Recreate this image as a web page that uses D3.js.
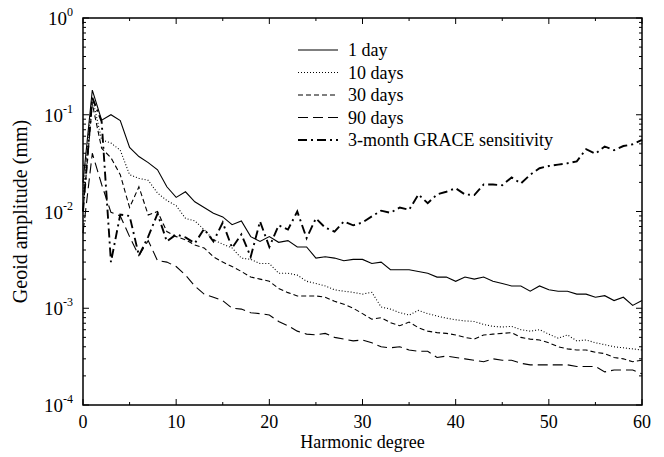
<!doctype html>
<html>
<head>
<meta charset="UTF-8">
<title>geoid</title>
<script src="https://d3js.org/d3.v7.min.js"></script>
<style>
  body { margin: 0; background: #fff; }
  text { font-family: "Liberation Serif", "DejaVu Serif", serif; fill: #000; }
</style>
</head>
<body>
<script>
// degrees 0..60
var degrees = d3.range(0, 61);

var oneDay = [0.020, 0.18, 0.088, 0.10, 0.087, 0.046, 0.037, 0.032, 0.027, 0.018,
  0.014, 0.016, 0.0126, 0.011, 0.0096, 0.0088, 0.0073, 0.0080, 0.0055, 0.0049,
  0.0055, 0.0048, 0.0050, 0.0043, 0.0043, 0.0033, 0.0034, 0.0033, 0.0031, 0.0032,
  0.0032, 0.0029, 0.0030, 0.0025, 0.0025, 0.0025, 0.0024, 0.0023, 0.0021, 0.0021,
  0.0019, 0.0021, 0.0020, 0.0021, 0.0019, 0.0018, 0.0017, 0.0017, 0.0015, 0.0017,
  0.00155, 0.0015, 0.0015, 0.0014, 0.0014, 0.0013, 0.00135, 0.0012, 0.0013, 0.00107,
  0.0012];

var tenDays = [0.015, 0.15, 0.055, 0.051, 0.043, 0.024, 0.022, 0.021, 0.0155, 0.013,
  0.0115, 0.0085, 0.0080, 0.0065, 0.0051, 0.0046, 0.0042, 0.0033, 0.0032, 0.0029,
  0.0029, 0.0023, 0.0023, 0.0022, 0.0019, 0.0018, 0.0017, 0.00155, 0.0015, 0.00146,
  0.0014, 0.00146, 0.00103, 0.00098, 0.0009, 0.00085, 0.00095, 0.00088, 0.00083, 0.00079,
  0.00076, 0.00074, 0.00073, 0.00068, 0.00065, 0.00064, 0.00065, 0.0006, 0.00058, 0.0006,
  0.00054, 0.00049, 0.00053, 0.00046, 0.00047, 0.00044, 0.00042, 0.0004, 0.00039, 0.00038,
  0.00037];

var thirtyDays = [0.010, 0.13, 0.045, 0.036, 0.024, 0.011, 0.018, 0.0092, 0.010, 0.0062,
  0.0055, 0.0051, 0.0045, 0.0042, 0.0034, 0.0030, 0.0027, 0.0024, 0.0021, 0.0020,
  0.0019, 0.0016, 0.00145, 0.00134, 0.00134, 0.00134, 0.0013, 0.00118, 0.0011, 0.0010,
  0.00088, 0.00077, 0.0008, 0.00071, 0.00066, 0.00072, 0.00063, 0.00058, 0.00056, 0.00055,
  0.00053, 0.0005, 0.00048, 0.00053, 0.00054, 0.00055, 0.00056, 0.0005, 0.00048, 0.00047,
  0.00044, 0.0004, 0.00038, 0.00037, 0.00037, 0.00035, 0.00034, 0.00031, 0.0003, 0.00028,
  0.00029];

var ninetyDays = [0.006, 0.040, 0.019, 0.0098, 0.0090, 0.0055, 0.0035, 0.0050, 0.0031, 0.0030,
  0.0027, 0.0022, 0.0017, 0.0014, 0.0013, 0.0012, 0.0010, 0.00098, 0.0009, 0.00088,
  0.00085, 0.00073, 0.00066, 0.00058, 0.00054, 0.00053, 0.00055, 0.0005, 0.00048, 0.00046,
  0.00047, 0.00044, 0.0004, 0.00039, 0.0004, 0.00037, 0.00036, 0.00036, 0.00031, 0.00032,
  0.00031, 0.0003, 0.00029, 0.00028, 0.0003, 0.00029, 0.00029, 0.00027, 0.00026, 0.00026,
  0.00026, 0.00026, 0.00026, 0.00025, 0.00025, 0.00025, 0.00022, 0.00023, 0.00023, 0.00023,
  0.00021];

var grace = [0.010, 0.15, 0.085, 0.003, 0.0093, 0.0090, 0.0035, 0.0055, 0.0095, 0.0049,
  0.0058, 0.0054, 0.0047, 0.0066, 0.0049, 0.0077, 0.0042, 0.0058, 0.0034, 0.0079,
  0.0043, 0.0072, 0.0065, 0.010, 0.0053, 0.0085, 0.0068, 0.0062, 0.0079, 0.0072,
  0.0077, 0.0089, 0.0102, 0.0097, 0.0110, 0.0104, 0.0150, 0.0122, 0.0150, 0.0160,
  0.0174, 0.0150, 0.0148, 0.0190, 0.0190, 0.0187, 0.0225, 0.0195, 0.0240, 0.0280,
  0.0295, 0.0305, 0.0315, 0.0330, 0.0440, 0.0395, 0.0470, 0.0430, 0.0475, 0.0495,
  0.0550];

var seriesNames = ["1 day", "10 days", "30 days", "90 days", "3-month GRACE sensitivity"];
var xTicks = [0, 10, 20, 30, 40, 50, 60];
var yExponents = [0, -1, -2, -3, -4];

var W = 664, H = 457;
var pL = 83, pR = 642, pT = 18, pB = 405;

var svg = d3.select("body").append("svg").attr("width", W).attr("height", H);

var x = d3.scaleLinear().domain([0, 60]).range([pL, pR]);
var y = d3.scaleLog().domain([1e-4, 1]).range([pB, pT]);

// line styles per series
var styles = [
  {dash: null, w: 1.1},
  {dash: "1,2", w: 1.1},
  {dash: "5,3", w: 1.1},
  {dash: "10,5", w: 1.1},
  {dash: "9,4,2,4", w: 1.9}
];
var data = [oneDay, tenDays, thirtyDays, ninetyDays, grace];

var line = d3.line()
  .x(function(d, i){ return x(degrees[i]); })
  .y(function(d){ return y(d); });

svg.selectAll("path.series").data(data).enter().append("path")
  .attr("class", "series")
  .attr("d", line)
  .attr("fill", "none")
  .attr("stroke", "#000")
  .attr("stroke-width", function(d, i){ return styles[i].w; })
  .attr("stroke-dasharray", function(d, i){ return styles[i].dash; });

// frame
svg.append("rect")
  .attr("x", pL).attr("y", pT)
  .attr("width", pR - pL).attr("height", pB - pT)
  .attr("fill", "none").attr("stroke", "#000").attr("stroke-width", 1.5);

// x ticks (inward, top and bottom)
var xMinor = d3.range(0, 61, 5);
var g = svg.append("g").attr("stroke", "#000").attr("stroke-width", 1);
xMinor.forEach(function(v){
  var len = (v % 10 === 0) ? 6 : 3;
  g.append("line").attr("x1", x(v)).attr("x2", x(v)).attr("y1", pB).attr("y2", pB - len);
  g.append("line").attr("x1", x(v)).attr("x2", x(v)).attr("y1", pT).attr("y2", pT + len);
});

// y ticks (log, inward, left and right)
var yt = [];
for (var e = -4; e <= 0; e++) {
  for (var m = 1; m <= 9; m++) {
    var v = m * Math.pow(10, e);
    if (v <= 1) yt.push({v: v, major: m === 1});
  }
}
yt.forEach(function(t){
  var len = t.major ? 6 : 3;
  g.append("line").attr("x1", pL).attr("x2", pL + len).attr("y1", y(t.v)).attr("y2", y(t.v));
  g.append("line").attr("x1", pR).attr("x2", pR - len).attr("y1", y(t.v)).attr("y2", y(t.v));
});

// x tick labels
svg.selectAll("text.xt").data(xTicks).enter().append("text")
  .attr("class", "xt")
  .attr("x", function(d){ return x(d); })
  .attr("y", pB + 23)
  .attr("text-anchor", "middle")
  .attr("font-size", 18)
  .text(function(d){ return d; });

// y tick labels 10^n
var yl = svg.selectAll("text.yt").data(yExponents).enter().append("text")
  .attr("class", "yt")
  .attr("x", pL - 10)
  .attr("y", function(d){ return y(Math.pow(10, d)) + 7; })
  .attr("text-anchor", "end")
  .attr("font-size", 19);
yl.append("tspan").text("10");
yl.append("tspan").attr("dy", -9).attr("font-size", 12).text(function(d){ return d; });

// axis titles
svg.append("text")
  .attr("x", (pL + pR) / 2).attr("y", 448)
  .attr("text-anchor", "middle").attr("font-size", 18)
  .text("Harmonic degree");
svg.append("text")
  .attr("transform", "translate(27," + ((pT + pB) / 2) + ") rotate(-90)")
  .attr("text-anchor", "middle").attr("font-size", 20)
  .text("Geoid amplitude (mm)");

// legend
var lg = svg.selectAll("g.leg").data(seriesNames).enter().append("g")
  .attr("class", "leg")
  .attr("transform", function(d, i){ return "translate(298," + (50 + i * 22.5) + ")"; });
lg.append("line")
  .attr("x1", 0).attr("x2", 40).attr("y1", 0).attr("y2", 0)
  .attr("stroke", "#000")
  .attr("stroke-width", function(d, i){ return styles[i].w; })
  .attr("stroke-dasharray", function(d, i){ return styles[i].dash; });
lg.append("text")
  .attr("x", 50).attr("y", 6)
  .attr("font-size", 18)
  .text(function(d){ return d; });
</script>
</body>
</html>
